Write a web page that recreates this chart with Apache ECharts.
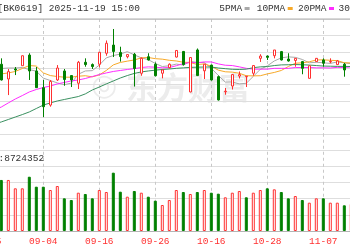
<!DOCTYPE html>
<html><head><meta charset="utf-8">
<script src="https://cdn.jsdelivr.net/npm/echarts@6/dist/echarts.min.js"></script>
<style>html,body{margin:0;padding:0;background:#fff;overflow:hidden}#c{width:350px;height:250px}</style>
</head><body><div id="c"></div>
<script>
const categories = ['08-25','08-26','08-27','08-28','08-29','09-01','09-02','09-03','09-04','09-05','09-08','09-09','09-10','09-11','09-12','09-15','09-16','09-17','09-18','09-19','09-22','09-23','09-24','09-25','09-26','09-29','09-30','10-09','10-10','10-13','10-14','10-15','10-16','10-17','10-20','10-21','10-22','10-23','10-24','10-27','10-28','10-29','10-30','10-31','11-03','11-04','11-05','11-06','11-07','11-10','11-11','11-12','11-13'];
// candles from 08-27 onward
const open  = [1472.4,1463.4,1469.5,1471.5,1478.0,1468.3,1458.1,1447.5,1462.8,1468.3,1465.5,1460.8,1473.6,1472.2,1472.4,1479.1,1484.1,1479.6,1477.0,1478.5,1466.9,1477.0,1472.4,1466.9,1470.3,1476.8,1480.2,1455.5,1481.1,1468.4,1471.9,1464.8,1455.6,1459.1,1465.2,1464.8,1466.9,1476.0,1477.4,1477.6,1480.1,1475.6,1474.7,1474.0,1463.8,1474.0,1475.0,1473.8,1472.2,1472.4,1470.1];
const close = [1462.8,1467.9,1468.9,1477.6,1468.3,1458.1,1446.5,1461.9,1470.1,1463.1,1462.8,1473.6,1472.2,1471.0,1479.7,1485.2,1480.2,1477.1,1478.3,1469.8,1476.0,1475.0,1465.4,1468.9,1472.4,1480.8,1472.2,1476.5,1465.5,1472.4,1462.8,1450.6,1456.0,1466.1,1466.1,1465.1,1471.6,1477.4,1476.6,1481.1,1475.0,1474.4,1476.0,1469.9,1471.5,1476.0,1473.0,1474.1,1474.4,1468.9,1473.2];
const low   = [1462.5,1453.6,1465.8,1471.5,1462.8,1457.9,1440.2,1446.5,1462.2,1459.3,1458.5,1457.3,1470.9,1469.5,1470.5,1477.6,1476.8,1474.0,1476.0,1458.8,1465.4,1474.7,1464.9,1463.8,1469.8,1476.5,1471.6,1455.3,1465.2,1463.4,1462.5,1450.3,1453.8,1457.0,1463.7,1458.5,1465.4,1473.8,1475.0,1476.0,1474.7,1474.0,1470.9,1466.3,1463.7,1473.8,1470.9,1473.0,1471.9,1464.8,1468.9];
const high  = [1476.0,1469.5,1470.7,1477.7,1479.1,1470.7,1462.8,1462.8,1471.9,1469.5,1465.8,1474.4,1476.0,1472.9,1479.9,1486.9,1493.9,1483.1,1478.5,1479.3,1476.5,1479.1,1473.5,1469.2,1472.9,1481.1,1480.5,1476.5,1482.0,1472.5,1472.2,1465.5,1457.9,1466.3,1468.0,1465.2,1471.9,1478.5,1477.7,1481.1,1480.5,1479.1,1476.2,1474.4,1471.6,1476.2,1476.0,1476.0,1475.0,1473.2,1473.8];
// moving averages from 08-26 onward
const ma5  = [1469.5,1469.8,1470.1,1470.1,1470.4,1469.1,1468.2,1463.9,1462.5,1461.0,1459.9,1460.9,1466.3,1468.3,1468.5,1471.9,1476.3,1477.7,1478.6,1480.1,1478.1,1476.3,1475.2,1472.9,1471.0,1471.5,1472.5,1471.9,1474.1,1473.5,1473.5,1469.9,1465.6,1461.5,1461.6,1460.4,1460.8,1465.0,1469.3,1471.4,1474.4,1476.3,1476.9,1476.6,1475.3,1473.3,1473.6,1473.3,1472.9,1473.8,1473.3,1472.7];
const ma10 = [1465.8,1466.5,1467.1,1468.0,1469.8,1471.6,1471.3,1467.1,1465.5,1464.9,1464.5,1464.5,1465.1,1465.4,1464.7,1465.9,1468.6,1472.0,1473.5,1474.3,1475.0,1476.3,1476.5,1475.8,1475.5,1474.8,1474.4,1473.6,1473.5,1472.2,1472.6,1471.2,1468.8,1467.8,1467.6,1466.9,1465.4,1465.3,1465.4,1466.5,1467.4,1468.6,1471.0,1473.0,1473.3,1473.9,1475.0,1475.1,1474.8,1474.6,1473.3,1473.2];
const ma20 = [1444.5,1446.3,1448.8,1451.2,1453.3,1455.5,1457.0,1458.2,1459.1,1460.4,1461.3,1462.2,1462.8,1463.7,1464.9,1466.1,1467.1,1468.0,1468.6,1469.2,1469.7,1470.4,1470.8,1470.6,1470.2,1470.4,1471.5,1472.8,1473.5,1473.3,1473.8,1473.8,1472.6,1471.8,1471.6,1470.8,1469.9,1469.4,1469.4,1469.4,1469.9,1469.9,1469.9,1470.4,1470.4,1470.4,1470.2,1470.2,1470.1,1470.5,1470.4,1470.8];
const ma30 = [1435.9,1437.2,1438.7,1440.2,1441.7,1443.3,1445.4,1447.5,1448.8,1450.0,1450.9,1451.8,1452.7,1454.3,1456.7,1458.5,1460.4,1462.2,1464.0,1465.5,1466.8,1467.7,1468.3,1468.8,1469.2,1469.5,1469.9,1470.2,1470.5,1470.6,1470.7,1470.7,1470.1,1469.7,1469.3,1469.2,1469.4,1470.3,1470.8,1471.0,1471.6,1472.0,1472.1,1472.2,1472.1,1471.9,1471.6,1471.3,1471.2,1471.1,1471.1,1471.0];
// volume from 08-27 onward
const volume = [6868000,6868000,5745000,5745000,7304000,5962000,5962000,5517000,6055000,4398000,4171000,5155000,4980000,4398000,5517000,5248000,7847000,5290000,4619000,5384000,5155000,4619000,4080000,3498000,4171000,5517000,5248000,4980000,5248000,5517000,5155000,5021000,4536000,5155000,5384000,4536000,5155000,5517000,5745000,5608000,5248000,4398000,4709000,4171000,3810000,4398000,4398000,3810000,3810000,3458000,3636000];
const volumeUp = [0,1,1,1,0,0,0,1,1,0,0,1,0,0,1,1,0,0,1,0,1,0,0,1,1,1,0,1,0,1,0,0,1,1,1,0,1,1,0,1,0,0,1,0,1,1,0,1,1,0,1];
const xLabelEvery = 8;
const volLabel = '8724352';
const maNames = ['5PMA','10PMA','20PMA','30PMA'];
const maColors = ['#a9a9a9','#f7a928','#ff2cff','#3a9060'];

const RED = '#ff3030', GREEN = '#008000';
const pad2 = ['-','-'];
const candleData = pad2.map(()=>['-','-','-','-']).concat(open.map((o,i)=>[o, close[i], low[i], high[i]]));
const volData = pad2.concat(volume.map((v,i)=>({value:v, itemStyle:{color: volumeUp[i]?'#fff':GREEN, borderColor: volumeUp[i]?RED:GREEN, borderWidth:1}})));
const padMA = a => ['-'].concat(a);

const chart = echarts.init(document.getElementById('c'), null, {renderer:'canvas'});
const MONO = '"Liberation Mono", "DejaVu Sans Mono", monospace';
const gridL = -12.7, gridW = 364;
const catInterval = (idx) => idx % xLabelEvery === 0;
const splitX = {show:true, interval:catInterval, lineStyle:{color:'#c8c8c8', type:[3,3], width:1}};
const splitY = {show:true, lineStyle:{color:'#dedede', width:1}};

const legendGraphics = [];
const legendX = [219.3, 256.7, 298, 338.5];
maNames.forEach((n,k)=>{
  legendGraphics.push({type:'text', x:legendX[k], y:8.5, style:{text:n, font:'9.5px '+MONO, fill:'#333', textVerticalAlign:'middle'}, z:10});
  legendGraphics.push({type:'rect', shape:{x:legendX[k]+n.length*5.7+2.5, y:7, width:5, height:3}, style:{fill:maColors[k]}, z:10});
});

chart.setOption({
  animation:false,
  backgroundColor:'#fff',
  grid:[
    {left:gridL, width:gridW, top:19, height:114.75, outerBoundsMode:'none', containLabel:false},
    {left:gridL, width:gridW, top:133.75, height:97.25, outerBoundsMode:'none', containLabel:false}
  ],
  xAxis:[
    {type:'category', gridIndex:0, data:categories, boundaryGap:false, axisLine:{show:false}, axisTick:{show:false}, axisLabel:{show:false}, splitLine:splitX},
    {type:'category', gridIndex:1, data:categories, boundaryGap:false, axisLine:{show:true, lineStyle:{color:'#b4b4b4'}}, axisTick:{show:false},
     axisLabel:{show:true, interval:catInterval, color:RED, fontFamily:MONO, fontSize:9.5, margin:5}, splitLine:splitX}
  ],
  yAxis:[
    {type:'value', gridIndex:0, min:1430, max:1500, interval:10, axisLine:{show:false}, axisTick:{show:false}, axisLabel:{show:false}, splitLine:splitY},
    {type:'value', gridIndex:1, min:0, max:2181088*6, interval:2181088, axisLine:{show:false}, axisTick:{show:false}, axisLabel:{show:false}, splitLine:splitY}
  ],
  graphic:[
    {type:'text', x:104, y:87, silent:true, z:-1, style:{text:'◎', font:'bold 30px "DejaVu Sans"', fill:'#ececec', textAlign:'center', textVerticalAlign:'middle'}},
    {type:'text', x:126, y:87, silent:true, z:-1, style:{text:'东方财富', font:'bold 31px "Noto Sans CJK SC"', fill:'#ececec', textVerticalAlign:'middle'}},
    {type:'line', shape:{x1:0, y1:19, x2:350, y2:19}, style:{stroke:'#b0b0b0', lineWidth:1}, z:10},
    {type:'text', x:-2.5, y:8.5, style:{text:'[BK0619] 2025-11-19 15:00', font:'9.5px '+MONO, fill:'#333', textVerticalAlign:'middle'}, z:10},
    {type:'text', x:-1.5, y:158, style:{text:':'+volLabel, font:'9.5px '+MONO, fill:'#333', textVerticalAlign:'middle'}, z:10}
  ].concat(legendGraphics),
  series:[
    {name:maNames[0], type:'line', xAxisIndex:0, yAxisIndex:0, data:padMA(ma5), showSymbol:false, symbol:'none', lineStyle:{color:maColors[0], width:1}, z:1},
    {name:maNames[1], type:'line', xAxisIndex:0, yAxisIndex:0, data:padMA(ma10), showSymbol:false, symbol:'none', lineStyle:{color:maColors[1], width:1}, z:1},
    {name:maNames[2], type:'line', xAxisIndex:0, yAxisIndex:0, data:padMA(ma20), showSymbol:false, symbol:'none', lineStyle:{color:maColors[2], width:1}, z:1},
    {name:maNames[3], type:'line', xAxisIndex:0, yAxisIndex:0, data:padMA(ma30), showSymbol:false, symbol:'none', lineStyle:{color:maColors[3], width:1}, z:1},
    {type:'candlestick', xAxisIndex:0, yAxisIndex:0, data:candleData, barWidth:3, clip:false, z:3,
     itemStyle:{color:'#fff', color0:GREEN, borderColor:RED, borderColor0:GREEN, borderWidth:1}},
    {type:'bar', xAxisIndex:1, yAxisIndex:1, data:volData, barWidth:3, clip:false}
  ]
});
</script></body></html>
